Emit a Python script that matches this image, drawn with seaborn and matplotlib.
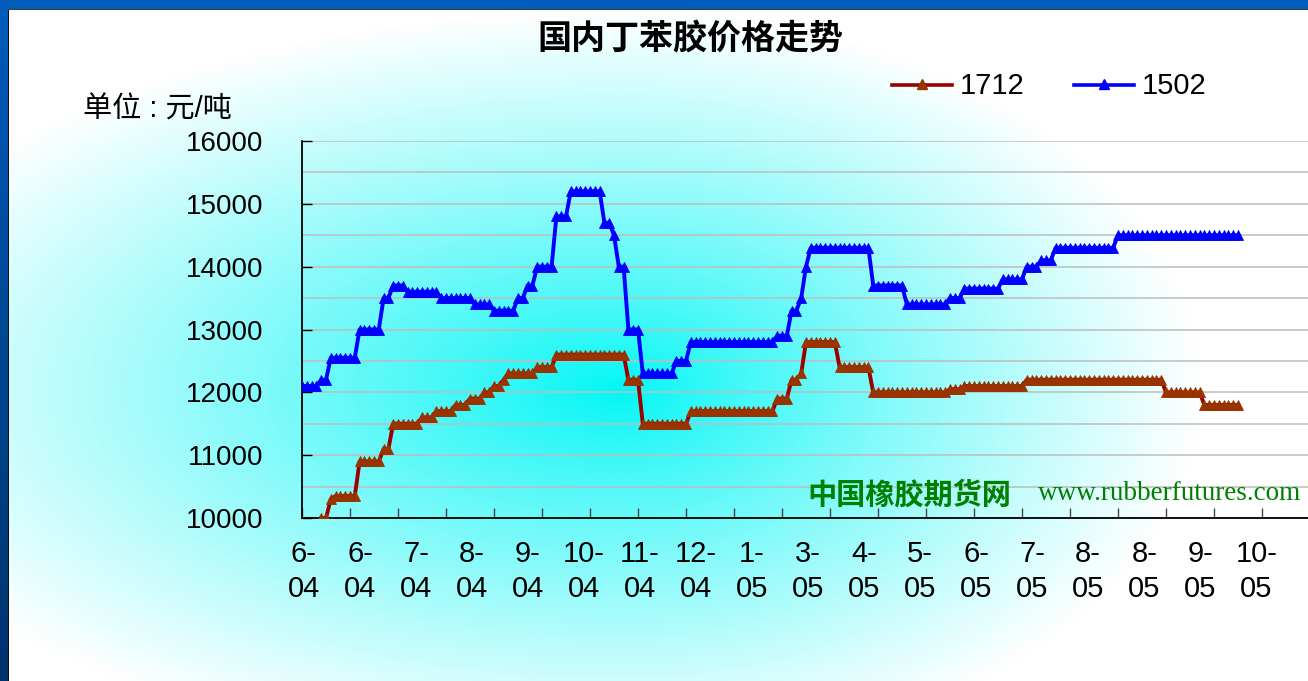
import numpy as np
import pandas as pd
import matplotlib.pyplot as plt
import seaborn as sns

# price levels (元/吨) and how many trading days each level lasted
p1502_levels = [12100, 12200, 12550, 13000, 13500, 13700, 13600, 13500, 13400, 13300,
                13500, 13700, 14000, 14800, 15200, 14700, 14500, 14000, 13000, 12300,
                12500, 12800, 12900, 13300, 13500, 14000, 14300, 13700, 13400, 13500,
                13650, 13800, 14000, 14100, 14300, 14500]
p1502_days = [4, 2, 6, 5, 2, 3, 7, 7, 4, 5, 2, 2, 4, 3, 7, 2, 1, 2, 3, 7,
              3, 18, 3, 2, 1, 1, 13, 7, 9, 3, 8, 5, 3, 3, 13, 26]
p1502_start = 0

p1712_levels = [10000, 10300, 10350, 10900, 11100, 11500, 11600, 11700, 11800, 11900,
                12000, 12100, 12200, 12300, 12400, 12600, 12200, 11500, 11700, 11900,
                12200, 12300, 12800, 12400, 12000, 12050, 12100, 12200, 12000, 11800]
p1712_days = [2, 1, 5, 5, 2, 6, 3, 4, 3, 3, 2, 2, 1, 6, 4, 15, 3, 10, 18, 3,
              2, 1, 7, 7, 16, 3, 13, 29, 8, 8]
p1712_start = 4

month_labels = ["6-\n04", "6-\n04", "7-\n04", "8-\n04", "9-\n04", "10-\n04", "11-\n04", "12-\n04",
                "1-\n05", "3-\n05", "4-\n05", "5-\n05", "6-\n05", "7-\n05", "8-\n05", "8-\n05",
                "9-\n05", "10-\n05"]

y1502 = np.repeat(p1502_levels, p1502_days)
y1712 = np.repeat(p1712_levels, p1712_days)
df = pd.concat([
    pd.DataFrame({"day": p1502_start + np.arange(len(y1502)), "price": y1502, "series": "1502"}),
    pd.DataFrame({"day": p1712_start + np.arange(len(y1712)), "price": y1712, "series": "1712"}),
])

plt.rcParams['font.family'] = ['Liberation Sans', 'Noto Sans CJK SC', 'DejaVu Sans']

W, H = 1308, 681
fig = plt.figure(figsize=(W / 100, H / 100), dpi=100)

# background: soft radial cyan glow plus the blue slide frame
yy, xx = np.mgrid[0:H, 0:W].astype(float)
cx, cy = 620, 390
rx = np.where(xx < cx, 800.0, 580.0)
ry = np.where(yy < cy, 380.0, 370.0)
d = np.clip(np.sqrt(((xx - cx) / rx) ** 2 + ((yy - cy) / ry) ** 2), 0, 1)
r = 255 * d ** 0.85
gb = 246 + 9 * d
img = np.dstack([r, gb, gb]) / 255.0
img[:9, :] = np.array([0, 92, 187]) / 255.0
img[9, :] = np.array([60, 60, 60]) / 255.0
fade = np.linspace(0, 1, H)[:, None]
left = (np.array([0, 92, 187]) * (1 - fade) + np.array([0, 50, 110]) * fade) / 255.0
img[:, :8] = left[:, None, :]
img[10:, 8] = 0.05
bg = fig.add_axes([0, 0, 1, 1], zorder=0)
bg.imshow(img, aspect='auto', interpolation='bilinear')
bg.axis('off')

ax = fig.add_axes([302 / W, 1 - 518 / H, 1008 / W, 377 / H], zorder=1)
ax.patch.set_alpha(0)

colors = {"1712": "#993300", "1502": "#0000FF"}
lines = {"1712": "#990000", "1502": "#0000FF"}
for name in ["1502", "1712"]:
    sub = df[df["series"] == name]
    sns.lineplot(data=sub, x="day", y="price", ax=ax, color=lines[name], lw=2.8,
                 marker="^", markersize=7, markerfacecolor=colors[name],
                 markeredgecolor=colors[name], markeredgewidth=0.6, zorder=3)

ax.set_xlim(0, 210)
ax.set_ylim(10000, 16000)
ax.set_xlabel("")
ax.set_ylabel("")
ax.set_yticks(np.arange(10000, 16001, 1000))
ax.set_yticks(np.arange(10500, 16000, 1000), minor=True)
ax.yaxis.grid(True, which='both', color='#BDBDBD', lw=1.1)
ax.set_axisbelow(True)
ax.tick_params(axis='y', which='major', direction='in', length=7, width=1, labelsize=20, pad=28)
ax.tick_params(axis='y', which='minor', length=0)

ax.set_xticks(np.arange(0, 211, 10))
ax.set_xticklabels([])
ax.set_xticks(np.linspace(0.4, 198.8, len(month_labels)), minor=True)
ax.set_xticklabels(month_labels, minor=True, linespacing=1.3)
ax.tick_params(axis='x', which='major', direction='in', length=7, width=1, color='#444444')
ax.tick_params(axis='x', which='minor', length=0, labelsize=21, pad=16)
for s in ['top', 'right']:
    ax.spines[s].set_visible(False)
for s in ['left', 'bottom']:
    ax.spines[s].set_color('black')
    ax.spines[s].set_linewidth(1.3)

fig.text(690 / W, 1 - 39 / H, "国内丁苯胶价格走势", ha='center', va='center',
         fontsize=24.5, fontweight='bold', family=['Noto Sans CJK SC'])
fig.text(83 / W, 1 - 110 / H, "单位 : 元/吨", ha='left', va='center', fontsize=21)

# legend drawn by hand to match the original placement
for name, x0 in [("1712", 892), ("1502", 1074)]:
    fig.add_artist(plt.Line2D([x0 / W, (x0 + 60) / W], [1 - 85 / H] * 2, color=lines[name], lw=2.6))
    fig.add_artist(plt.Line2D([(x0 + 30) / W], [1 - 84 / H], marker="^", markersize=6.5,
                              color=colors[name]))
    fig.text((x0 + 68) / W, 1 - 86 / H, name, ha='left', va='center', fontsize=21)

fig.text(807 / W, 1 - 495 / H, "中国橡胶期货网", ha='left', va='center', fontsize=21,
         fontweight='bold', color='#008000', family=['Noto Sans CJK SC'])
fig.text(1038 / W, 1 - 493 / H, "www.rubberfutures.com", ha='left', va='center', fontsize=19.5,
         color='#008000', family=['Liberation Serif'])

fig.savefig("out.png", dpi=100)
